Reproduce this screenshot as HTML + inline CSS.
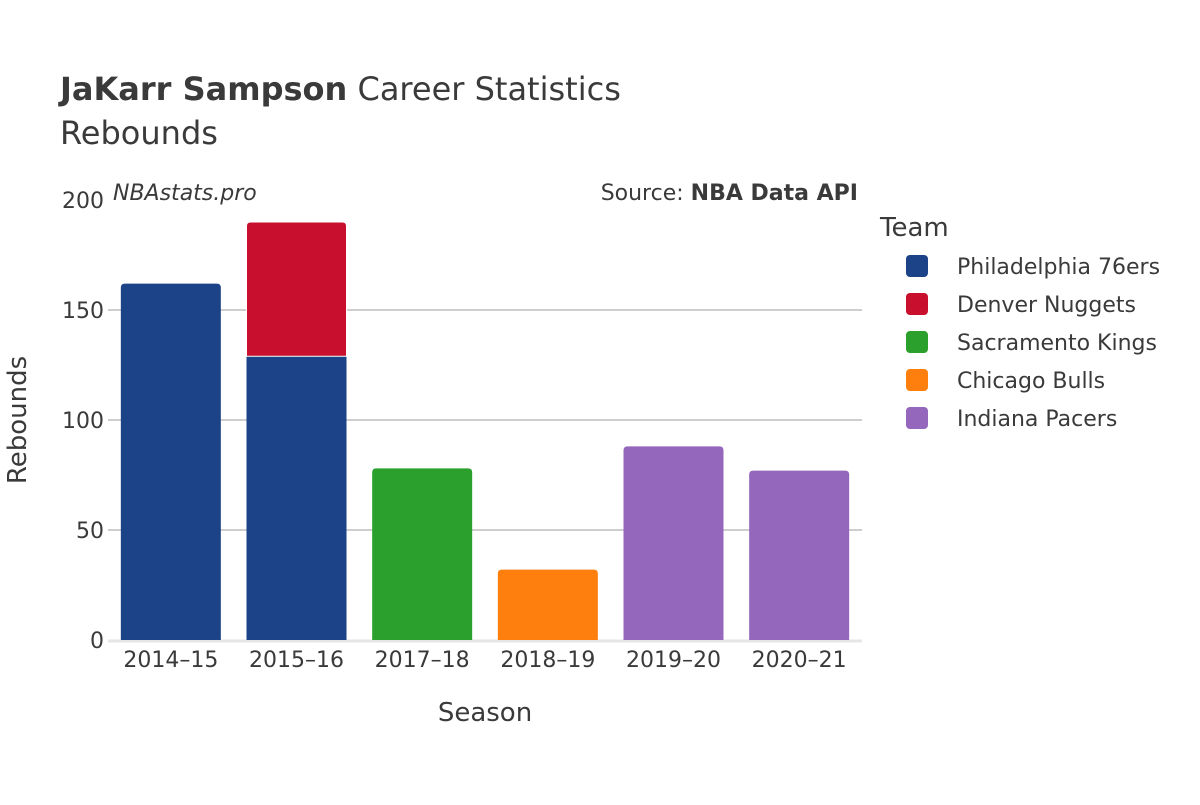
<!DOCTYPE html>
<html><head><meta charset="utf-8"><style>
body{margin:0;background:#fff;}
svg text{font-family:"DejaVu Sans","Liberation Sans",sans-serif;fill:#3a3a3a;}
</style></head><body>
<svg id="chart" width="1200" height="800">
<rect width="1200" height="800" fill="#fff"/>
<text x="60" y="100" font-size="32"><tspan font-weight="bold">JaKarr Sampson</tspan> Career Statistics</text>
<text x="60" y="144" font-size="32">Rebounds</text>
<text x="113" y="200" font-size="22" font-style="italic">NBAstats.pro</text>
<text x="858" y="200" font-size="22" text-anchor="end">Source: <tspan font-weight="bold">NBA Data API</tspan></text>
<g id="grid"></g>
<g id="bars"></g>
<g id="xticks"></g>
<text x="485" y="721" font-size="26" text-anchor="middle">Season</text>
<text transform="translate(26,420) rotate(-90)" font-size="26" text-anchor="middle">Rebounds</text>
<text x="880" y="236" font-size="26">Team</text>
<g id="legend"></g>
</svg>
<script>
const seasons=["2014–15","2015–16","2017–18","2018–19","2019–20","2020–21"];
const teams=["Philadelphia 76ers","Denver Nuggets","Sacramento Kings","Chicago Bulls","Indiana Pacers"];
const colors=["#1c4387","#c8102e","#2ca02c","#ff7f0e","#9467bd"];
const phi=[162,129,0,0,0,0];
const den=[0,61,0,0,0,0];
const sac=[0,0,78,0,0,0];
const chi=[0,0,0,32,0,0];
const ind=[0,0,0,0,88,77];
const yTicks=[0,50,100,150,200];
const series=[phi,den,sac,chi,ind];
const NS="http://www.w3.org/2000/svg";
const x0=108,x1=862,y0=640,y1=200,yMax=200;
const y=v=>y0-(v/yMax)*(y0-y1);
const band=(x1-x0)/seasons.length;
const bw=100;
const xc=i=>x0+band*(i+0.5);
function mk(tag,attrs,parent){const e=document.createElementNS(NS,tag);for(const k in attrs)e.setAttribute(k,attrs[k]);parent.appendChild(e);return e;}
const grid=document.getElementById('grid');
yTicks.forEach(t=>{
  if(t>0&&t<yMax){const l=mk('line',{x1:x0,x2:x1,y1:y(t),y2:y(t),stroke:'#bdbdbd','stroke-width':1.5},grid);
  
  }
  const tx=mk('text',{x:x0-4,y:y(t)+8,'font-size':22,'text-anchor':'end'},grid);
  tx.textContent=t;
  
  
});
const axis=mk('line',{x1:x0,x2:x1,y1:y0+1,y2:y0+1,stroke:'#e6e6e6','stroke-width':3},grid);


const bars=document.getElementById('bars');
seasons.forEach((s,i)=>{
  let base=0;
  const tops=series.map(a=>a[i]);
  let lastIdx=-1;tops.forEach((v,k)=>{if(v>0)lastIdx=k;});
  series.forEach((arr,k)=>{
    const v=arr[i];if(!v)return;
    const yt=y(base+v),yb=y(base);const xl=xc(i)-bw/2;const r=k===lastIdx?4:0;
    const d=`M${xl},${yb}L${xl},${yt+r}Q${xl},${yt} ${xl+r},${yt}L${xl+bw-r},${yt}Q${xl+bw},${yt} ${xl+bw},${yt+r}L${xl+bw},${yb}Z`;
    const p=mk('path',{d:d,fill:colors[k],stroke:'#fff','stroke-width':k>0&&base>0?1:0},bars);
    
    
    base+=v;
  });
  const tx=mk('text',{x:xc(i),y:667,'font-size':22,'text-anchor':'middle'},document.getElementById('xticks'));
  tx.textContent=s;
  
  
});
const lg=document.getElementById('legend');
teams.forEach((t,k)=>{
  const g=mk('g',{},lg);
  
  
  const yy=266+k*38;
  mk('rect',{x:906,y:yy-11,width:22,height:22,rx:4,fill:colors[k]},g);
  const tx=mk('text',{x:957,y:yy+8,'font-size':22},g);tx.textContent=t;
});
</script>
</body></html>
